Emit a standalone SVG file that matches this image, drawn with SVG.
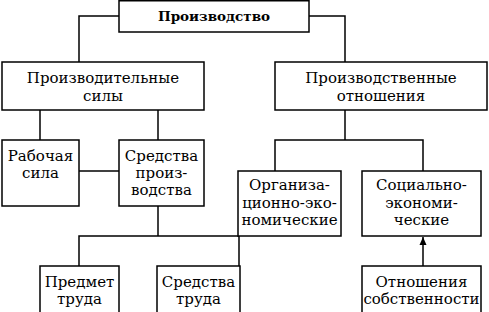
<svg xmlns="http://www.w3.org/2000/svg" width="489" height="312" viewBox="0 0 489 312">
<defs>
<style>
.b{fill:#fff;stroke:#000;stroke-width:1.5}
.c{fill:none;stroke:#000;stroke-width:1.5}
text{font-family:"DejaVu Serif","Liberation Serif",serif;font-size:15px;fill:#000;text-anchor:middle}
.t{font-weight:bold;font-size:13.5px}
</style>
<marker id="ah" viewBox="0 0 8 10" refX="8" refY="5" markerWidth="8" markerHeight="10" markerUnits="userSpaceOnUse" orient="auto"><path d="M0,1.5 L8,5 L0,8.5 Z" fill="#000"/></marker>
</defs>
<g id="connectors">
<path class="c" d="M119,16 H79 V62"/>
<path class="c" d="M309,16 H345 V62"/>
<path class="c" d="M40,110 V140"/>
<path class="c" d="M158,110 V140"/>
<path class="c" d="M79,171 H119"/>
<path class="c" d="M158,206 V236"/>
<path class="c" d="M79,266 V236 H239 V266"/>
<path class="c" d="M345,110 V140"/>
<path class="c" d="M275,171 V140 H423 V171"/>
<path class="c" d="M423,266 V237" marker-end="url(#ah)"/>
</g>
<g id="n-top"><rect class="b" x="119" y="0.75" width="190" height="31.25"/><text class="t" x="214" y="21">Производство</text></g>
<g id="n-forces"><rect class="b" x="2" y="62" width="202" height="48"/><text x="103" y="83">Производительные</text><text x="103" y="101">силы</text></g>
<g id="n-relations"><rect class="b" x="275" y="62" width="212" height="48"/><text x="381" y="83">Производственные</text><text x="381" y="101">отношения</text></g>
<g id="n-labor"><rect class="b" x="2" y="140" width="77" height="66"/><text x="40.5" y="161">Рабочая</text><text x="40.5" y="178">сила</text></g>
<g id="n-means"><rect class="b" x="119" y="140" width="85" height="66"/><text x="161.5" y="161">Средства</text><text x="161.5" y="178">произ-</text><text x="161.5" y="195">водства</text></g>
<g id="n-subject"><rect class="b" x="40" y="266" width="79" height="50"/><text x="79.5" y="287">Предмет</text><text x="79.5" y="304">труда</text></g>
<g id="n-tools"><rect class="b" x="157" y="266" width="83" height="50"/><text x="198.5" y="287">Средства</text><text x="198.5" y="304">труда</text></g>
<g id="n-org"><rect class="b" x="238" y="171" width="103" height="65"/><text x="289.5" y="190">Организа-</text><text x="289.5" y="207.5">ционно-эко-</text><text x="289.5" y="225">номические</text></g>
<g id="n-soc"><rect class="b" x="362" y="171" width="119" height="65"/><text x="421.5" y="190">Социально-</text><text x="421.5" y="207.5">экономи-</text><text x="421.5" y="225">ческие</text></g>
<g id="n-prop"><rect class="b" x="362" y="266" width="119" height="50"/><text x="421.5" y="287">Отношения</text><text x="421.5" y="304">собственности</text></g>
</svg>
